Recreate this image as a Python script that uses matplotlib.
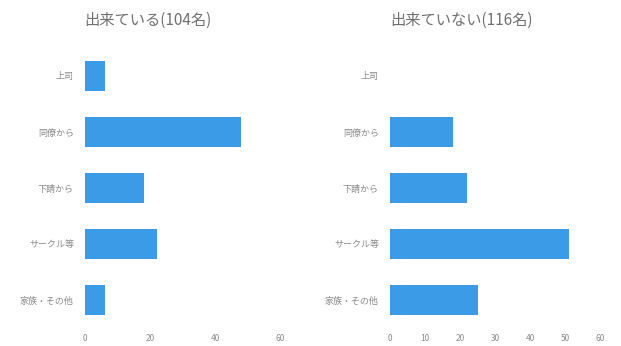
import matplotlib
matplotlib.use("Agg")
import matplotlib.pyplot as plt

plt.rcParams['font.family'] = ['Noto Sans CJK JP', 'DejaVu Sans']

categories = ["上司", "同僚から", "下請から", "サークル等", "家族・その他"]
done_counts = [6, 48, 18, 22, 6]
not_done_counts = [0, 18, 22, 51, 25]

left_ticks = [0, 20, 40, 60]
right_ticks = [0, 10, 20, 30, 40, 50, 60]

BAR_COLOR = "#3b9be6"
TEXT_COLOR = "#8a8a8a"

W, H = 621, 346
fig = plt.figure(figsize=(W / 100, H / 100), dpi=100)


def draw_panel(rect, values, ticks):
    ax = fig.add_axes(rect)
    ax.barh(range(len(categories)), values, height=0.55, color=BAR_COLOR)
    ax.set_ylim(len(categories) - 0.5, -0.5)
    ax.set_xlim(ticks[0], ticks[-1])
    ax.set_yticks(range(len(categories)))
    ax.set_yticklabels(categories, fontsize=6.5, color=TEXT_COLOR)
    ax.set_xticks(ticks)
    ax.set_xticklabels([str(t) for t in ticks], fontsize=6, color=TEXT_COLOR)
    ax.tick_params(axis='y', length=0, pad=8)
    ax.tick_params(axis='x', length=0, pad=4)
    for s in ax.spines.values():
        s.set_visible(False)
    return ax


bottom = (H - 328) / H
height = 280 / H
draw_panel([85 / W, bottom, 195 / W, height], done_counts, left_ticks)
draw_panel([390 / W, bottom, 210 / W, height], not_done_counts, right_ticks)

fig.text(148 / W, 1 - 20 / H, "出来ている(104名)", ha='center', va='center',
         fontsize=11, color="#707070")
fig.text(462 / W, 1 - 20 / H, "出来ていない(116名)", ha='center', va='center',
         fontsize=11, color="#707070")

fig.savefig("out.png", dpi=100)
